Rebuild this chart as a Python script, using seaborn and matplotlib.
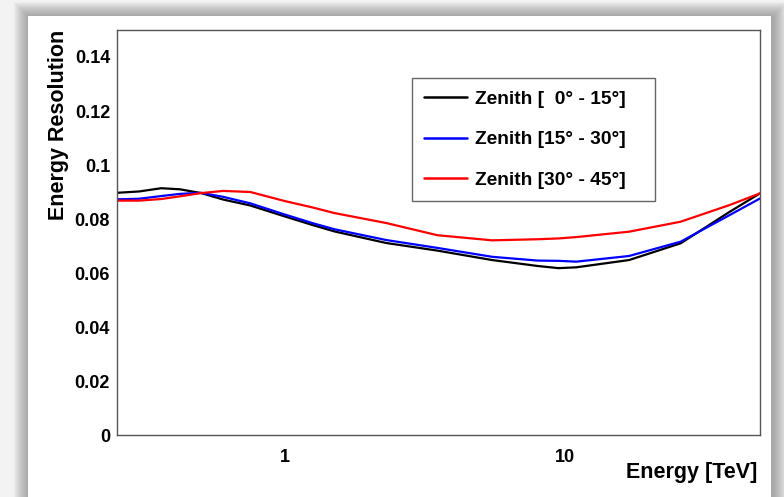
import numpy as np
import pandas as pd
import matplotlib
matplotlib.use("Agg")
import matplotlib.pyplot as plt
from matplotlib.patches import Rectangle
from matplotlib.ticker import FixedLocator, FixedFormatter, NullFormatter
import seaborn as sns

# Energy resolution vs. reconstructed energy for three zenith-angle bands
energy_tev = [0.25, 0.3, 0.36, 0.42, 0.5, 0.6, 0.75, 1.0, 1.25, 1.5,
              2.3, 3.5, 5.5, 8.0, 9.5, 11.0, 17.0, 26.0, 39.0, 50.0]
res_zen_0_15 = [0.0897, 0.0902, 0.0914, 0.0910, 0.0896, 0.0872, 0.0850, 0.0809, 0.0778, 0.0754,
                0.0711, 0.0683, 0.0648, 0.0626, 0.0618, 0.0621, 0.0648, 0.0710, 0.0827, 0.0895]
res_zen_15_30 = [0.0873, 0.0875, 0.0885, 0.0893, 0.0897, 0.0882, 0.0858, 0.0816, 0.0785, 0.0762,
                 0.0722, 0.0693, 0.0660, 0.0646, 0.0645, 0.0642, 0.0663, 0.0716, 0.0815, 0.0876]
res_zen_30_45 = [0.0868, 0.0868, 0.0874, 0.0884, 0.0896, 0.0904, 0.0900, 0.0866, 0.0843, 0.0822,
                 0.0785, 0.0740, 0.0721, 0.0725, 0.0728, 0.0733, 0.0753, 0.0790, 0.0852, 0.0895]
zenith_labels = ["Zenith [  0\u00b0 - 15\u00b0]",
                 "Zenith [15\u00b0 - 30\u00b0]",
                 "Zenith [30\u00b0 - 45\u00b0]"]
line_colors = ["#000000", "#0000ff", "#ff0000"]

y_major = [0.0, 0.02, 0.04, 0.06, 0.08, 0.10, 0.12, 0.14]
y_major_labels = ["0", "0.02", "0.04", "0.06", "0.08", "0.1", "0.12", "0.14"]
x_major = [1, 10]
x_major_labels = ["1", "10"]

df = pd.concat([
    pd.DataFrame({"energy": energy_tev, "resolution": vals, "zenith": lab})
    for vals, lab in zip([res_zen_0_15, res_zen_15_30, res_zen_30_45], zenith_labels)
])

sns.set_style("white")
plt.rcParams["font.family"] = ["Liberation Sans", "DejaVu Sans"]
plt.rcParams["text.color"] = "black"
plt.rcParams["axes.labelcolor"] = "black"

W, H = 784, 497
fig = plt.figure(figsize=(W / 100, H / 100), dpi=100)
fig.patch.set_facecolor("#f3f3f3")

# soft drop-shadow frame around the white canvas
wx0, wy0, wx1 = 28, 16, 771
for k in range(14, 0, -1):
    shade = Rectangle(((wx0 - k) / W, 0), (wx1 - wx0 + 2 * k + 2) / W, (H - wy0 + k) / H,
                      transform=fig.transFigure, facecolor="#707070", edgecolor="none",
                      alpha=0.05, zorder=-20)
    fig.patches.append(shade)
canvas = Rectangle((wx0 / W, 0), (wx1 - wx0) / W, (H - wy0) / H, transform=fig.transFigure,
                   facecolor="white", edgecolor="none", zorder=-10)
fig.patches.append(canvas)

ax_l, ax_r, ax_t, ax_b = 117, 760, 30, 435
ax = fig.add_axes([ax_l / W, 1 - ax_b / H, (ax_r - ax_l) / W, (ax_b - ax_t) / H])
ax.set_facecolor("white")

sns.lineplot(data=df, x="energy", y="resolution", hue="zenith", hue_order=zenith_labels,
             palette=line_colors, linewidth=1.6, ax=ax, legend=True, sort=True)

ax.set_xscale("log")
ax.set_xlim(0.25, 50)
ax.set_ylim(0, 0.15)

ax.xaxis.set_major_locator(FixedLocator(x_major))
ax.xaxis.set_major_formatter(FixedFormatter(x_major_labels))
x_minor = [m * d for d in (0.1, 1, 10) for m in range(2, 10) if 0.25 < m * d < 50 and m * d not in x_major]
ax.xaxis.set_minor_locator(FixedLocator(x_minor))
ax.xaxis.set_minor_formatter(NullFormatter())

ax.yaxis.set_major_locator(FixedLocator(y_major))
ax.yaxis.set_major_formatter(FixedFormatter(y_major_labels))
ax.yaxis.set_minor_locator(FixedLocator(np.arange(0, 0.1501, 0.005)))

frame_col = "#555555"
for s in ax.spines.values():
    s.set_color(frame_col)
    s.set_linewidth(1.0)

ax.tick_params(axis="both", which="both", direction="in", color=frame_col, width=1.0,
               top=False, right=False, labelcolor="black")
ax.tick_params(axis="y", which="major", length=13, pad=5, labelsize=13)
ax.tick_params(axis="y", which="minor", length=7)
ax.tick_params(axis="x", which="major", length=9.5, pad=10, labelsize=13)
ax.tick_params(axis="x", which="minor", length=6)
for lab in ax.get_xticklabels() + ax.get_yticklabels():
    lab.set_fontweight("bold")

ax.set_xlabel("Energy [TeV]", fontsize=15.5, fontweight="bold", loc="right", color="black")
ax.set_ylabel("Energy Resolution", fontsize=15.5, fontweight="bold", loc="top", color="black")
ax.xaxis.set_label_coords(0.996, -0.066)
ax.yaxis.set_label_coords(-0.074, 1.0)

lx0, ly0, lx1, ly1 = 412, 78, 655, 200
leg = ax.legend(loc="upper left",
                bbox_to_anchor=((lx0 - ax_l) / (ax_r - ax_l), 1 - (ly1 - ax_t) / (ax_b - ax_t),
                                (lx1 - lx0) / (ax_r - ax_l), (ly1 - ly0) / (ax_b - ax_t)),
                mode="expand", borderaxespad=0, frameon=True, fancybox=False, framealpha=1,
                edgecolor="#666666", prop={"weight": "bold", "size": 13.8},
                handlelength=2.2, handletextpad=0.45, labelspacing=1.2, borderpad=0.65,
                title=None)
leg.get_frame().set_linewidth(1.0)
for h in leg.get_lines():
    h.set_linewidth(1.8)
for t in leg.get_texts():
    t.set_color("black")

fig.savefig("out.png", dpi=100, facecolor=fig.get_facecolor())
